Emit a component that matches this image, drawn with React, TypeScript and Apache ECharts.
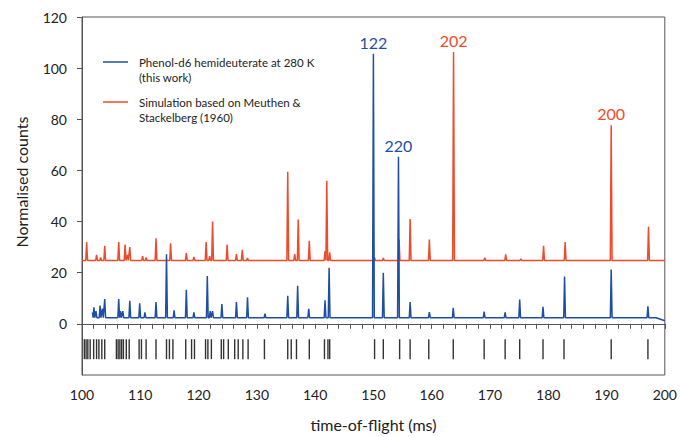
import React, { useEffect, useRef } from "react";
import * as echarts from "echarts";

const BLUE = "#1f4fa3";
const RED = "#ee4b2b";

// calculated line positions (ms)
const sticks = [100.4, 100.7, 101.0, 101.4, 102.0, 102.5, 102.9, 103.4, 103.9, 105.9, 106.2, 106.5, 106.8, 107.1, 107.6, 108.1, 109.8, 110.2, 111.0, 112.7, 114.5, 115.0, 115.6, 117.8, 118.8, 119.3, 121.2, 121.6, 122.2, 123.9, 124.3, 125.1, 126.2, 126.8, 127.6, 128.5, 131.3, 135.3, 135.9, 136.8, 139.0, 141.6, 142.2, 142.5, 150.2, 151.7, 154.5, 156.3, 159.5, 163.7, 169.0, 172.6, 175.1, 179.1, 182.7, 190.8, 197.1];
const stickTop = -6;
const stickBottom = -13.8;

// Simulation (red)
const redBase = 24.8;
const redPeakTimes = [100.8, 102.5, 103.2, 103.9, 106.3, 107.4, 107.8, 108.2, 110.4, 111.0, 112.7, 115.2, 117.9, 119.2, 121.3, 121.9, 122.4, 124.9, 126.5, 127.5, 128.4, 135.3, 136.5, 137.1, 139.0, 141.7, 142.0, 142.5, 150.2, 151.7, 154.4, 156.3, 159.6, 163.75, 169.1, 172.7, 175.3, 179.2, 182.9, 190.8, 197.2];
const redPeakHeights = [32, 27, 26, 30.5, 32, 31, 27, 30, 26.5, 26, 33.5, 31.5, 27.7, 26.2, 32, 26.5, 40, 31, 27.3, 29, 25.8, 59.5, 27.3, 40.8, 32.5, 28.5, 56, 28, 26, 25.8, 33, 41, 33, 106.3, 25.9, 27.2, 25.4, 30.5, 32, 77.7, 38];

// Measured (blue)
const blueBase = 2.4;
const blueStart = [101.8, 4.5];
const blueEnd = [200, 1.2];
const bluePeakTimes = [102.05, 102.4, 103.1, 103.5, 103.9, 106.3, 106.6, 107.0, 108.2, 109.9, 110.8, 112.7, 114.5, 115.8, 117.9, 119.2, 121.5, 122.0, 122.4, 124.0, 126.5, 128.4, 131.4, 135.3, 137.0, 138.9, 141.7, 142.4, 150.0, 151.7, 154.3, 156.3, 159.6, 163.7, 169.0, 172.6, 175.1, 179.1, 182.8, 190.8, 197.1];
const bluePeakHeights = [6.5, 5, 7.2, 6, 9.7, 9.7, 5, 5, 9, 8, 4.5, 8.5, 27.2, 5.3, 13.3, 4.5, 18.7, 5, 5, 7.7, 8.5, 10.4, 4, 11, 14.9, 5.9, 9.2, 21.9, 105.6, 20, 65.3, 8.5, 4.6, 6.3, 4.8, 4.5, 9.5, 6.7, 18.5, 21.3, 6.9];

// Peak annotations
const blueLabels = [{ name: "122", t: 150.0, v: 105.6 }, { name: "220", t: 154.3, v: 65.3 }];
const redLabels = [{ name: "202", t: 163.75, v: 106.3 }, { name: "200", t: 190.8, v: 77.7 }];

const xTicks = { min: 100, max: 200, interval: 10 };
const yTicks = { min: -20, max: 120, interval: 20 };

const HALF = 0.15;

function buildTrace(start: number[], end: number[], base: number, times: number[], heights: number[]) {
  const pts: number[][] = [start];
  times.forEach((t, i) => {
    pts.push([t - HALF, base]);
    pts.push([t, heights[i]]);
    pts.push([t + HALF, base]);
  });
  pts.push([end[0] - 1.5, base]);
  pts.push(end);
  return pts;
}

export default function App() {
  const ref = useRef<HTMLDivElement>(null);
  useEffect(() => {
    if (!ref.current) return;
    const chart = echarts.init(ref.current, undefined, { renderer: "svg" });
    const font = "Lato, 'DejaVu Sans', sans-serif";
    const axisColor = "#555";
    const redData = buildTrace([100, redBase], [200, redBase], redBase, redPeakTimes, redPeakHeights);
    const blueData = buildTrace(blueStart, blueEnd, blueBase, bluePeakTimes, bluePeakHeights);
    const mkLabels = (arr: { name: string; t: number; v: number }[], color: string) => ({
      symbol: "rect",
      symbolSize: 1,
      itemStyle: { color: "rgba(0,0,0,0)" },
      label: { show: true, position: "top", distance: 3, formatter: "{b}", color, fontSize: 16, fontFamily: font },
      data: arr.map((d) => ({ name: d.name, coord: [d.t, d.v] })),
    });
    chart.setOption({
      animation: false,
      grid: { left: 82, right: 14, top: 17, bottom: 57, show: true, borderColor: axisColor, borderWidth: 1 },
      xAxis: {
        type: "value",
        min: xTicks.min,
        max: xTicks.max,
        interval: xTicks.interval,
        name: "time-of-flight (ms)",
        nameLocation: "middle",
        nameGap: 41,
        nameTextStyle: { fontSize: 16, color: "#222", fontFamily: font },
        axisLine: { lineStyle: { color: axisColor, width: 1 } },
        axisTick: { show: true, length: 5, lineStyle: { color: axisColor } },
        minorTick: { show: true, splitNumber: 5, length: 5, lineStyle: { color: axisColor } },
        splitLine: { show: false },
        axisLabel: { fontSize: 14, color: "#222", margin: 12, fontFamily: font },
      },
      yAxis: {
        type: "value",
        min: yTicks.min,
        max: yTicks.max,
        interval: yTicks.interval,
        axisLine: { show: true, lineStyle: { color: axisColor, width: 1 } },
        axisTick: { show: true, length: 5, lineStyle: { color: axisColor }, customValues: [0, 20, 40, 60, 80, 100, 120] },
        splitLine: { show: false },
        axisLabel: {
          fontSize: 14,
          color: "#222",
          margin: 15,
          fontFamily: font,
          formatter: (v: number) => (v < 0 ? "" : String(v)),
        },
      },
      graphic: [
        {
          type: "text",
          x: 21,
          y: 182,
          rotation: Math.PI / 2,
          style: { text: "Normalised counts", fontSize: 16, fill: "#222", fontFamily: font, textAlign: "center", textVerticalAlign: "middle" },
        },
        { type: "line", shape: { x1: 103, y1: 62, x2: 128, y2: 62 }, style: { stroke: BLUE, lineWidth: 1.5 } },
        {
          type: "text",
          x: 139,
          y: 55,
          style: { text: "Phenol-d6 hemideuterate at 280 K\n(this work)", fontSize: 11.5, lineHeight: 15, fill: "#222", fontFamily: font },
        },
        { type: "line", shape: { x1: 103, y1: 102, x2: 128, y2: 102 }, style: { stroke: RED, lineWidth: 1.5 } },
        {
          type: "text",
          x: 139,
          y: 95,
          style: { text: "Simulation based on Meuthen &\nStackelberg (1960)", fontSize: 11.5, lineHeight: 15, fill: "#222", fontFamily: font },
        },
      ],
      series: [
        {
          name: "Simulation based on Meuthen & Stackelberg (1960)",
          type: "line",
          data: redData,
          showSymbol: false,
          lineStyle: { color: RED, width: 1.5 },
          z: 2,
          markPoint: mkLabels(redLabels, RED),
        },
        {
          name: "Phenol-d6 hemideuterate at 280 K (this work)",
          type: "line",
          data: blueData,
          showSymbol: false,
          lineStyle: { color: BLUE, width: 1.5 },
          z: 3,
          markPoint: mkLabels(blueLabels, BLUE),
        },
        {
          name: "lines",
          type: "custom",
          data: sticks.map((t) => [t, stickTop, stickBottom]),
          encode: { x: 0, y: [1, 2] },
          renderItem: (params: any, api: any) => {
            const t = api.value(0);
            const p1 = api.coord([t, api.value(1)]);
            const p2 = api.coord([t, api.value(2)]);
            return {
              type: "line",
              shape: { x1: p1[0], y1: p1[1], x2: p2[0], y2: p2[1] },
              style: { stroke: "#333", lineWidth: 1.4 },
            };
          },
          z: 1,
        },
      ],
    });
    return () => chart.dispose();
  }, []);
  return <div ref={ref} style={{ width: 680, height: 437, position: "absolute", left: 0, top: 0 }} />;
}
